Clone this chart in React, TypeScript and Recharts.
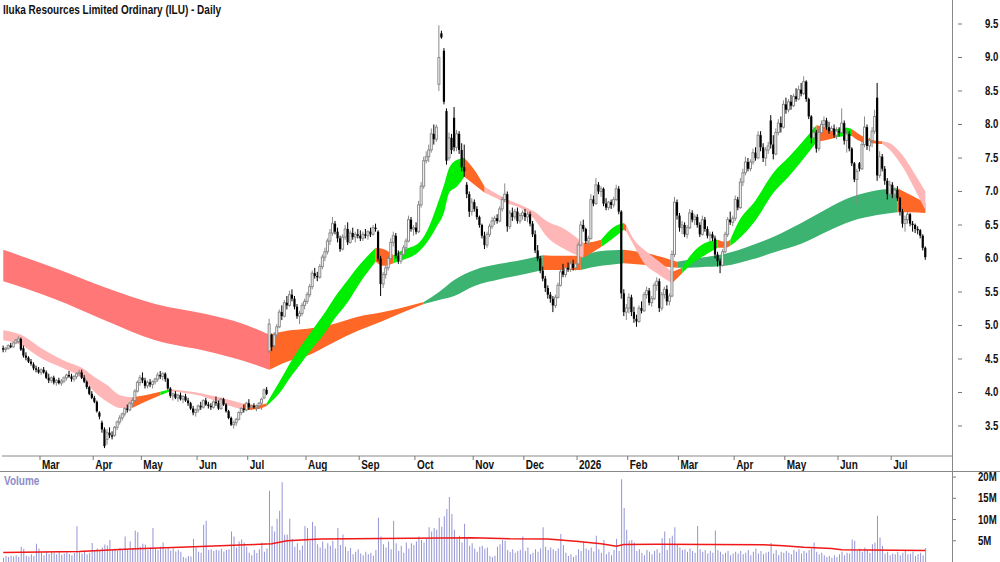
import React from 'react';
import { ComposedChart, Bar, Area, Line, XAxis, YAxis } from 'recharts';

// [open, high, low, close] per trading day, grouped by month
type C = [number, number, number, number];

const feb25: C[] = [[4.66,4.70,4.60,4.64],[4.64,4.68,4.60,4.66],[4.66,4.72,4.64,4.70],[4.70,4.74,4.66,4.68],[4.68,4.76,4.67,4.74],[4.74,4.80,4.72,4.78],[4.76,4.84,4.74,4.80],[4.80,4.82,4.62,4.64],[4.66,4.70,4.52,4.55],[4.55,4.60,4.48,4.52],[4.52,4.54,4.44,4.46],[4.46,4.50,4.40,4.43],[4.42,4.45,4.33,4.36],[4.36,4.40,4.30,4.34],[4.34,4.38,4.28,4.30]];
const mar25: C[] = [[4.30,4.36,4.26,4.34],[4.34,4.38,4.28,4.30],[4.30,4.33,4.20,4.22],[4.22,4.28,4.14,4.18],[4.18,4.24,4.14,4.22],[4.22,4.25,4.12,4.15],[4.15,4.20,4.10,4.18],[4.18,4.22,4.12,4.14],[4.14,4.20,4.10,4.17],[4.17,4.24,4.14,4.22],[4.22,4.28,4.18,4.26],[4.26,4.32,4.22,4.24],[4.24,4.28,4.16,4.20],[4.20,4.26,4.16,4.24],[4.24,4.30,4.20,4.28],[4.28,4.34,4.24,4.30],[4.30,4.34,4.20,4.22],[4.22,4.26,4.14,4.16],[4.16,4.18,4.05,4.08],[4.08,4.10,3.96,3.98],[3.98,4.02,3.90,3.92]];
const apr25: C[] = [[3.92,3.95,3.84,3.86],[3.86,3.88,3.70,3.72],[3.70,3.72,3.60,3.64],[3.55,3.58,3.40,3.45],[3.45,3.48,3.17,3.20],[3.30,3.45,3.22,3.40],[3.40,3.48,3.32,3.36],[3.36,3.42,3.30,3.34],[3.36,3.50,3.34,3.48],[3.48,3.58,3.44,3.56],[3.56,3.66,3.52,3.62],[3.62,3.70,3.58,3.68],[3.68,3.78,3.64,3.76],[3.76,3.82,3.70,3.74],[3.74,3.86,3.72,3.84],[3.84,3.92,3.78,3.88],[3.88,4.05,3.86,4.02],[4.02,4.18,4.00,4.15],[4.15,4.26,4.10,4.22]];
const may25: C[] = [[4.22,4.30,4.14,4.18],[4.18,4.22,4.06,4.10],[4.10,4.18,4.06,4.15],[4.15,4.20,4.08,4.12],[4.12,4.18,4.06,4.16],[4.16,4.22,4.12,4.20],[4.20,4.30,4.16,4.26],[4.26,4.32,4.20,4.24],[4.24,4.30,4.18,4.28],[4.28,4.30,4.16,4.20],[4.20,4.22,4.04,4.06],[4.06,4.08,3.92,3.95],[3.95,4.00,3.88,3.98],[3.98,4.02,3.90,3.92],[3.92,3.98,3.86,3.96],[3.96,4.00,3.88,3.90],[3.90,3.96,3.84,3.94],[3.94,3.98,3.86,3.88],[3.88,3.92,3.80,3.84],[3.84,3.86,3.74,3.76],[3.76,3.80,3.66,3.70],[3.70,3.76,3.64,3.74]];
const jun25: C[] = [[3.74,3.82,3.70,3.80],[3.80,3.86,3.74,3.78],[3.78,3.90,3.76,3.88],[3.88,3.92,3.80,3.82],[3.82,3.86,3.76,3.80],[3.80,3.84,3.74,3.78],[3.78,3.88,3.76,3.86],[3.86,3.94,3.80,3.84],[3.84,3.88,3.74,3.76],[3.76,3.92,3.74,3.90],[3.90,3.92,3.80,3.82],[3.82,3.84,3.70,3.72],[3.72,3.74,3.60,3.62],[3.62,3.64,3.50,3.52],[3.52,3.58,3.46,3.55],[3.55,3.62,3.50,3.60],[3.60,3.72,3.58,3.70],[3.70,3.78,3.66,3.76],[3.76,3.82,3.70,3.74],[3.74,3.86,3.72,3.84]];
const jul25: C[] = [[3.84,3.90,3.74,3.78],[3.78,3.82,3.74,3.80],[3.80,3.84,3.76,3.78],[3.78,3.82,3.72,3.80],[3.80,3.86,3.76,3.84],[3.84,3.92,3.74,3.90],[3.92,4.06,3.90,4.04],[4.04,4.08,3.96,3.98],[4.62,5.10,4.58,5.02],[4.86,4.88,4.62,4.68],[4.70,4.90,4.66,4.86],[4.86,5.02,4.82,4.98],[4.98,5.24,4.96,5.20],[5.20,5.30,5.08,5.14],[5.14,5.38,5.12,5.34],[5.34,5.44,5.24,5.30],[5.30,5.52,5.28,5.46],[5.46,5.54,5.36,5.40],[5.40,5.44,5.24,5.28],[5.28,5.32,5.10,5.14],[5.14,5.22,5.02,5.18],[5.18,5.34,5.14,5.30],[5.30,5.40,5.24,5.36]];
const aug25: C[] = [[5.36,5.50,5.32,5.46],[5.46,5.62,5.42,5.58],[5.58,5.82,5.54,5.78],[5.78,5.86,5.70,5.74],[5.74,5.80,5.66,5.72],[5.72,5.92,5.70,5.88],[5.88,6.06,5.84,6.02],[6.02,6.16,5.96,6.10],[6.10,6.30,6.06,6.26],[6.26,6.44,6.20,6.38],[6.38,6.62,6.34,6.52],[6.52,6.56,6.36,6.40],[6.40,6.46,6.24,6.30],[6.30,6.34,6.10,6.14],[6.14,6.36,6.12,6.32],[6.32,6.50,6.28,6.44],[6.44,6.54,6.20,6.24],[6.24,6.42,6.22,6.38],[6.38,6.46,6.28,6.32],[6.32,6.40,6.24,6.36],[6.36,6.44,6.30,6.34]];
const sep25: C[] = [[6.34,6.42,6.26,6.30],[6.30,6.40,6.26,6.36],[6.36,6.44,6.30,6.34],[6.34,6.42,6.28,6.40],[6.40,6.46,6.32,6.36],[6.36,6.50,6.34,6.46],[6.46,6.52,6.40,6.44],[6.40,6.42,5.96,6.00],[6.00,6.04,5.44,5.62],[5.62,5.80,5.56,5.76],[5.76,5.90,5.70,5.86],[5.86,6.04,5.82,6.00],[6.00,6.30,5.98,6.24],[6.24,6.40,6.18,6.34],[6.34,6.38,6.00,6.04],[6.04,6.12,5.92,5.96],[5.96,6.08,5.92,6.06],[6.06,6.20,6.02,6.16],[6.16,6.30,6.10,6.26],[6.26,6.64,6.24,6.58],[6.58,6.62,6.40,6.44],[6.44,6.50,6.34,6.46]];
const oct25: C[] = [[6.46,6.54,6.36,6.40],[6.40,6.86,6.38,6.80],[6.80,7.14,6.76,7.08],[7.08,7.52,7.04,7.46],[7.46,7.60,7.42,7.52],[7.52,7.70,7.44,7.62],[7.62,7.94,7.58,7.86],[7.86,8.00,7.70,7.78],[7.78,8.00,7.74,7.96],[8.60,9.48,8.50,9.00],[9.36,9.40,9.28,9.30],[9.10,9.14,8.30,8.34],[8.20,8.24,7.40,7.46],[7.50,7.88,7.46,7.80],[7.80,7.86,7.56,7.62],[8.10,8.26,7.60,7.66],[7.66,7.92,7.60,7.86],[7.86,7.90,7.56,7.62],[7.62,7.72,7.30,7.36],[7.36,7.70,7.22,7.30],[7.10,7.14,6.90,6.96],[6.96,7.00,6.62,6.70],[6.70,6.90,6.64,6.84]];
const nov25: C[] = [[6.84,6.88,6.70,6.74],[6.74,6.78,6.58,6.62],[6.62,6.64,6.46,6.50],[6.50,6.52,6.30,6.34],[6.34,6.40,6.14,6.20],[6.20,6.40,6.16,6.36],[6.36,6.52,6.32,6.48],[6.48,6.62,6.44,6.56],[6.56,6.64,6.50,6.60],[6.60,6.66,6.52,6.56],[6.56,6.78,6.54,6.74],[6.74,6.92,6.70,6.88],[6.88,7.12,6.84,6.96],[6.96,7.00,6.40,6.48],[6.48,6.72,6.44,6.68],[6.68,6.76,6.56,6.62],[6.62,6.74,6.58,6.70],[6.70,6.76,6.52,6.56],[6.56,6.68,6.52,6.64],[6.64,6.72,6.58,6.68]];
const dec25: C[] = [[6.68,6.74,6.56,6.62],[6.62,6.70,6.54,6.66],[6.66,6.70,6.48,6.52],[6.52,6.56,6.32,6.36],[6.36,6.42,6.08,6.12],[6.12,6.20,5.96,6.00],[6.00,6.04,5.78,5.82],[5.82,5.88,5.66,5.70],[5.70,5.74,5.50,5.56],[5.56,5.60,5.40,5.46],[5.46,5.50,5.34,5.40],[5.40,5.44,5.20,5.30],[5.30,5.46,5.26,5.42],[5.42,5.64,5.40,5.60],[5.60,5.84,5.58,5.80],[5.82,5.92,5.72,5.76],[5.76,5.90,5.72,5.86],[5.86,5.94,5.80,5.84],[5.84,5.96,5.80,5.92],[5.92,5.98,5.82,5.86],[5.86,5.96,5.82,5.92]];
const jan26: C[] = [[5.92,6.24,5.90,6.20],[6.20,6.56,6.18,6.50],[6.50,6.58,6.40,6.44],[6.44,6.46,6.22,6.26],[6.26,6.34,6.20,6.30],[6.30,6.96,6.28,6.88],[6.88,6.94,6.78,6.82],[6.82,7.20,6.80,7.10],[7.10,7.14,6.96,7.00],[7.00,7.08,6.92,7.04],[7.04,7.06,6.78,6.82],[6.82,6.90,6.72,6.76],[6.76,6.86,6.72,6.84],[6.84,6.88,6.74,6.80],[6.80,6.92,6.76,6.88],[6.88,7.10,6.86,7.04],[7.04,7.08,6.66,6.70],[6.70,6.72,5.40,5.48],[5.48,5.54,5.14,5.20],[5.20,5.32,5.08,5.26]];
const feb26: C[] = [[5.26,5.48,5.18,5.42],[5.42,5.46,5.14,5.20],[5.20,5.28,5.04,5.10],[5.10,5.16,4.98,5.06],[5.06,5.30,5.04,5.26],[5.26,5.36,5.18,5.22],[5.22,5.50,5.20,5.46],[5.46,5.58,5.40,5.52],[5.52,5.56,5.30,5.34],[5.34,5.44,5.28,5.40],[5.40,5.64,5.38,5.60],[5.60,5.72,5.52,5.66],[5.66,5.70,5.20,5.26],[5.26,5.50,5.22,5.46],[5.46,5.58,5.40,5.54],[5.54,5.60,5.30,5.36],[5.36,5.48,5.30,5.44],[5.44,6.12,5.42,6.06],[6.06,6.92,6.02,6.84],[6.84,6.88,6.58,6.64]];
const mar26: C[] = [[6.64,6.68,6.40,6.46],[6.46,6.56,6.36,6.50],[6.50,6.54,6.32,6.36],[6.36,6.50,6.30,6.46],[6.46,6.74,6.44,6.68],[6.68,6.72,6.54,6.58],[6.58,6.66,6.50,6.62],[6.62,6.66,6.46,6.50],[6.50,6.54,6.32,6.36],[6.36,6.64,6.34,6.58],[6.58,6.62,6.40,6.44],[6.44,6.48,6.30,6.34],[6.34,6.40,6.24,6.36],[6.36,6.40,6.26,6.30],[6.30,6.34,6.00,6.06],[6.06,6.10,5.88,5.96],[5.96,6.00,5.78,5.90],[5.90,6.14,5.88,6.10],[6.10,6.40,6.08,6.36],[6.36,6.62,6.32,6.58],[6.58,6.70,6.50,6.54],[6.54,6.64,6.48,6.60]];
const apr26: C[] = [[6.60,6.94,6.56,6.88],[6.88,6.92,6.72,6.76],[6.76,7.20,6.74,7.14],[7.14,7.34,7.08,7.28],[7.28,7.52,7.24,7.44],[7.44,7.50,7.30,7.34],[7.34,7.48,7.30,7.44],[7.44,7.64,7.40,7.58],[7.58,7.66,7.46,7.50],[7.50,7.90,7.48,7.84],[7.84,7.90,7.60,7.66],[7.66,7.72,7.44,7.50],[7.50,7.66,7.38,7.62],[7.62,7.74,7.56,7.68],[8.06,8.14,7.64,7.70],[7.70,7.84,7.48,7.56],[7.56,7.94,7.54,7.88],[7.88,8.08,7.84,8.02],[8.02,8.12,7.88,7.96],[7.96,8.36,7.94,8.30]];
const may26: C[] = [[8.30,8.40,8.16,8.22],[8.22,8.38,8.18,8.34],[8.34,8.44,8.22,8.28],[8.28,8.46,8.26,8.42],[8.42,8.54,8.34,8.38],[8.38,8.58,8.36,8.52],[8.52,8.62,8.42,8.46],[8.46,8.72,8.44,8.64],[8.64,8.66,8.34,8.38],[8.38,8.40,8.08,8.12],[8.12,8.14,7.72,7.80],[7.80,7.96,7.70,7.88],[7.88,7.92,7.58,7.64],[7.64,7.94,7.60,7.88],[7.88,8.06,7.84,8.00],[8.00,8.12,7.94,8.06],[8.06,8.10,7.92,7.96],[7.96,8.04,7.86,7.90],[7.90,7.98,7.80,7.94],[7.94,8.00,7.80,7.84],[7.84,7.96,7.78,7.90]];
const jun26: C[] = [[7.90,7.96,7.82,7.88],[7.88,8.24,7.86,8.02],[8.02,8.06,7.70,7.76],[7.76,7.92,7.58,7.86],[7.86,7.90,7.60,7.64],[7.64,7.66,7.38,7.42],[7.42,7.44,7.14,7.18],[7.18,7.34,6.82,7.30],[7.42,7.44,7.30,7.34],[7.34,7.76,7.32,7.70],[7.70,8.12,7.66,7.96],[7.96,8.00,7.62,7.68],[7.68,7.80,7.60,7.76],[7.76,7.96,7.66,7.90],[7.90,8.22,7.86,8.12],[8.40,8.62,7.16,7.24],[7.24,7.60,7.20,7.52],[7.52,7.56,7.30,7.34],[7.34,7.38,7.10,7.16],[7.16,7.20,6.88,6.96],[6.96,7.16,6.92,7.10]];
const jul26: C[] = [[7.10,7.14,6.90,6.96],[6.96,7.06,6.88,7.02],[7.02,7.08,6.86,6.90],[6.90,6.92,6.64,6.70],[6.70,6.74,6.46,6.52],[6.52,6.64,6.40,6.58],[6.58,6.72,6.52,6.66],[6.66,6.68,6.48,6.52],[6.52,6.56,6.40,6.50],[6.50,6.52,6.38,6.44],[6.44,6.48,6.36,6.42],[6.42,6.44,6.30,6.34],[6.34,6.36,6.12,6.16],[6.16,6.18,5.98,6.02]];

const months = [feb25, mar25, apr25, may25, jun25, jul25, aug25, sep25, oct25, nov25, dec25, jan26, feb26, mar26, apr26, may26, jun26, jul26];
const monthLabels = ['', 'Mar', 'Apr', 'May', 'Jun', 'Jul', 'Aug', 'Sep', 'Oct', 'Nov', 'Dec', '2026', 'Feb', 'Mar', 'Apr', 'May', 'Jun', 'Jul'];

// volume, millions
const volFeb25 = [1.0,1.4,1.2,1.5,1.3,1.6,1.2,3.6,3.1,1.5,1.3,1.8,1.4,4.3,3.2];
const volMar25 = [2.1,1.6,2.4,1.9,2.6,2.2,1.8,2.5,1.7,2.0,2.3,1.9,1.6,2.1,8.4,2.3,2.0,2.4,1.8,2.2,4.5];
const volApr25 = [2.8,3.2,2.6,3.4,4.1,3.9,5.2,2.9,3.1,2.7,3.3,2.9,6.0,3.0,4.8,3.2,7.4,7.0,3.6];
const volMay25 = [4.3,4.1,2.9,3.4,8.0,3.1,2.8,3.6,4.6,3.0,3.3,2.7,3.2,2.5,2.9,2.4,1.2,1.0,1.4,1.3,5.4,3.4];
const volJun25 = [2.4,2.2,8.8,9.7,2.8,3.0,2.6,2.9,2.7,3.1,2.5,2.8,3.0,7.2,6.0,3.4,4.8,5.3,4.6,3.6];
const volJul25 = [2.2,1.6,2.8,2.1,3.0,4.6,2.4,3.2,16.8,8.5,7.2,10.2,12.1,18.8,6.4,6.5,10.2,5.4,3.6,4.4,2.8,3.9,8.5];
const volAug25 = [8.0,5.0,9.5,8.5,4.2,3.4,4.8,3.1,4.4,3.8,5.0,3.2,8.0,4.0,6.5,3.6,2.6,3.3,1.8,2.4,3.0];
const volSep25 = [2.0,1.6,2.4,1.8,2.2,1.5,2.8,10.4,6.0,4.2,3.4,4.8,3.0,9.7,4.4,2.6,3.8,2.2,4.6,3.2,4.4,4.0];
const volOct25 = [4.8,6.0,5.2,4.6,5.6,8.2,7.2,8.0,7.6,10.4,8.3,10.8,12.5,15.3,11.3,7.6,5.4,6.2,4.6,9.0,5.6,3.8,4.4];
const volNov25 = [3.2,2.4,3.6,3.8,3.1,3.4,1.4,1.2,1.5,3.6,4.2,5.2,5.0,2.8,2.4,3.0,2.2,2.6,2.9,6.0];
const volDec25 = [2.6,3.4,1.8,2.2,3.0,2.4,3.2,8.2,3.6,2.8,3.4,3.0,2.6,3.2,6.6,4.0,2.2,1.4,1.8,1.2,1.6];
const volJan26 = [3.0,2.6,4.8,3.2,2.8,3.4,2.5,6.2,3.0,2.2,5.2,1.8,2.4,1.6,2.8,5.5,2.6,19.5,12.7,7.6];
const volFeb26 = [5.0,5.2,4.6,2.6,3.0,2.2,1.6,2.8,2.4,1.8,2.6,3.0,2.2,5.6,7.2,2.8,5.6,6.2,8.2,4.0];
const volMar26 = [3.4,2.8,3.0,2.4,3.2,2.6,2.2,8.5,3.0,2.4,2.8,2.0,2.6,2.2,7.4,2.8,2.4,1.8,2.2,2.6,1.6,2.0];
const volApr26 = [2.4,2.0,2.6,1.8,2.2,2.8,1.6,2.4,3.2,2.0,2.6,1.8,2.2,2.4,4.5,2.0,2.8,1.6,2.4,2.2];
const volMay26 = [2.6,2.2,1.8,2.8,2.4,3.0,2.0,2.6,2.2,2.8,3.2,4.6,2.4,1.8,2.2,1.6,1.2,1.4,1.0,1.6,1.2];
const volJun26 = [1.8,2.4,1.6,2.2,2.0,5.3,5.0,2.6,3.2,2.4,3.4,2.8,2.2,4.2,4.6,10.9,5.8,3.8,2.0,2.4,1.6];
const volJul26 = [2.0,1.8,2.4,1.6,2.2,2.8,1.8,2.0,2.4,1.4,1.8,2.2,1.6,3.3];
const volMonths = [volFeb25, volMar25, volApr25, volMay25, volJun25, volJul25, volAug25, volSep25, volOct25, volNov25, volDec25, volJan26, volFeb26, volMar26, volApr26, volMay26, volJun26, volJul26];

// volume average line (day index -> millions)
const volAvgIdx = [0,30,50,78,96,106,112,125,185,200,215,226,236,242,245,258,300,308,316,327,331,364];
const volAvgVal = [2.25,2.5,3.05,3.65,4.05,4.3,5.0,5.4,5.7,5.45,5.4,4.9,4.3,3.7,4.1,4.2,4.05,3.8,3.45,3.2,2.9,2.7];

// short-term ribbon edges
const shortIdx = [0,7,15,25,31,36,41,46,51,56,62,66,78,86,95,100,104,109,114,118,122,126,131,136,141,147,150,154,158,164,168,171,174,176,179,182,186,190,198,206,210,214,222,229,233,236,241,245,246,249,253,258,264,268,272,277,282,285,287,290,297,304,310,317,321,325,329,333,335,339,343,347,350,355,360,364];
const shortHi = [4.93,4.86,4.66,4.46,4.37,4.23,4.11,3.96,3.93,3.96,4.01,4.05,3.99,3.92,3.83,3.81,3.84,4.16,4.49,4.72,4.93,5.14,5.43,5.68,5.92,6.16,6.14,6.05,6.13,6.23,6.47,6.77,7.10,7.35,7.47,7.50,7.32,7.07,6.90,6.77,6.69,6.57,6.43,6.23,6.25,6.28,6.47,6.53,6.49,6.28,6.13,5.98,5.80,5.86,6.08,6.23,6.28,6.25,6.28,6.53,6.87,7.28,7.51,7.81,7.99,7.96,7.93,7.95,7.93,7.83,7.77,7.75,7.72,7.54,7.25,7.00];
const shortLo = [4.78,4.71,4.51,4.34,4.22,4.01,3.86,3.77,3.77,3.86,3.96,4.02,3.95,3.84,3.74,3.75,3.80,3.99,4.26,4.46,4.66,4.84,5.11,5.35,5.65,5.95,5.89,5.93,5.98,6.10,6.28,6.47,6.69,6.98,7.07,7.22,7.10,6.98,6.84,6.71,6.57,6.35,6.13,6.01,6.10,6.17,6.31,6.43,6.40,6.19,5.93,5.78,5.63,5.78,5.93,6.05,6.16,6.16,6.19,6.28,6.57,6.98,7.22,7.54,7.74,7.77,7.81,7.83,7.83,7.74,7.72,7.71,7.62,7.37,7.02,6.72];
const shortSegs: [number, number, string][] = [[0,51,'pink'],[51,62,'orange'],[62,66,'green'],[66,95,'pink'],[95,104,'orange'],[104,147,'green'],[147,154,'orange'],[154,182,'green'],[182,190,'orange'],[190,229,'pink'],[229,236,'orange'],[236,245,'green'],[245,246,'orange'],[246,264,'pink'],[264,268,'orange'],[268,282,'green'],[282,287,'orange'],[287,321,'green'],[321,329,'orange'],[329,335,'green'],[335,347,'orange'],[347,364,'pink']];

// long-term ribbon edges
const longIdx = [0,20,40,60,80,95,105,112,120,130,140,150,160,166,172,178,186,196,206,213,220,228,236,245,255,266,275,285,295,305,315,325,335,345,353,358,364];
const longHi = [6.13,5.86,5.57,5.32,5.17,5.02,4.86,4.92,4.95,5.02,5.13,5.20,5.29,5.35,5.50,5.68,5.83,5.92,5.99,6.05,6.04,6.04,6.11,6.13,6.07,5.95,6.01,6.07,6.19,6.34,6.53,6.74,6.92,7.02,7.05,6.95,6.83];
const longLo = [5.66,5.40,5.08,4.78,4.62,4.47,4.34,4.46,4.55,4.74,4.92,5.07,5.23,5.32,5.38,5.44,5.59,5.69,5.77,5.83,5.83,5.83,5.89,5.93,5.90,5.86,5.87,5.89,5.98,6.10,6.22,6.40,6.56,6.65,6.69,6.69,6.68];
const longSegs: [number, number, string][] = [[0,105,'red'],[105,166,'orange'],[166,213,'green'],[213,228,'orange'],[228,245,'green'],[245,266,'orange'],[266,353,'green'],[353,364,'orange']];

const priceTicks = [3.5, 4, 4.5, 5, 5.5, 6, 6.5, 7, 7.5, 8, 8.5, 9, 9.5];
const volTicks = [5, 10, 15, 20];

const SHORT_COL: Record<string, string> = { pink: '#ffb6b6', orange: '#ff6726', green: '#00ee00' };
const LONG_COL: Record<string, string> = { red: '#ff7777', orange: '#ff6726', green: '#3cb371' };
const FONT = "'Liberation Sans', Arial, sans-serif";
const SQUEEZE = 0.8; // the source font is a narrow bold face

const SLOTS = 375;
const PLOT_W = 950;
const BAND = PLOT_W / SLOTS;

const candles = months.flat();
const volumes = volMonths.flat();
const monthStarts: number[] = [];
let acc = 0;
months.forEach(m => { monthStarts.push(acc); acc += m.length; });
const labelAt: Record<number, string> = {};
monthStarts.forEach((s, k) => { labelAt[s] = monthLabels[k]; });

const rows: any[] = Array.from({ length: SLOTS }, (_, i) => {
  const row: any = { i };
  const k = candles[i];
  if (k) { row.o = k[0]; row.h = k[1]; row.l = k[2]; row.c = k[3]; row.hl = [k[2], k[1]]; }
  if (volumes[i] != null) row.v = volumes[i];
  return row;
});
shortIdx.forEach((ix, j) => { rows[ix].sr = [shortLo[j], shortHi[j]]; });
longIdx.forEach((ix, j) => { rows[ix].lr = [longLo[j], longHi[j]]; });
volAvgIdx.forEach((ix, j) => { rows[ix].va = volAvgVal[j]; });

const segKey = (key: string, from: number, to: number) => (d: any) =>
  d.i >= from && d.i <= to && d[key] ? d[key] : null;

function CandleShape(props: any) {
  const { x, y, width, height, payload } = props;
  if (!payload || payload.o == null) return null;
  const { o, h, l, c } = payload;
  const cx = x + width / 2;
  const span = h - l || 1;
  const py = (v: number) => y + ((h - v) / span) * height;
  const up = c >= o;
  const top = py(Math.max(o, c));
  const bh = Math.max(py(Math.min(o, c)) - top, 1);
  const col = up ? '#8a8a8a' : '#000';
  return (
    <g>
      <line x1={cx} x2={cx} y1={y} y2={y + height} stroke={col} strokeWidth={1} />
      {up
        ? <rect x={cx - 1} y={top} width={2} height={bh} fill="#fff" stroke={col} strokeWidth={1} />
        : <rect x={cx - 1.1} y={top} width={2.2} height={bh} fill="#000" />}
    </g>
  );
}

function SqText({ x, y, size, children, fill = '#111' }: any) {
  return (
    <text transform={`translate(${x},${y}) scale(${SQUEEZE},1)`} fontSize={size} fontWeight="bold" fontFamily={FONT} fill={fill}>
      {children}
    </text>
  );
}

function MonthTick(props: any) {
  const { x, y, payload } = props;
  const lx = x - BAND / 2;
  return (
    <g>
      <line x1={lx} x2={lx} y1={y} y2={y + 4} stroke="#777" />
      <SqText x={lx + 2} y={y + 13} size={12.5}>{labelAt[payload.value]}</SqText>
    </g>
  );
}

function PriceTick(props: any) {
  const { x, y, payload } = props;
  return (
    <g>
      <line x1={x + 6} x2={x + 10} y1={y} y2={y} stroke="#777" />
      <SqText x={x + 33} y={y + 4} size={12}>{payload.value.toFixed(1)}</SqText>
    </g>
  );
}

function VolTick(props: any) {
  const { x, y, payload } = props;
  return (
    <g>
      <line x1={x} x2={x + 4} y1={y} y2={y} stroke="#777" />
      <SqText x={x + 26} y={y + 4} size={12}>{payload.value}M</SqText>
    </g>
  );
}

export default function App() {
  return (
    <div style={{ position: 'absolute', left: 0, top: 0, width: 1000, height: 562, background: '#fff', overflow: 'hidden' }}>
      <div style={{ position: 'absolute', left: 0, top: 0 }}>
        <ComposedChart width={1000} height={472} data={rows} margin={{ top: 0, right: 0, left: 2, bottom: 0 }} barCategoryGap={0}>
          <XAxis dataKey="i" type="category" height={16} ticks={monthStarts.slice(1)} interval={0}
            tickLine={false} tickSize={0} tickMargin={0} axisLine={{ stroke: '#888' }} tick={(p: any) => <MonthTick {...p} />} />
          <YAxis orientation="right" width={48} type="number" domain={[3.052, 9.858]} ticks={priceTicks} interval={0} allowDataOverflow
            tickLine={false} tickSize={0} tickMargin={0} axisLine={false} tick={(p: any) => <PriceTick {...p} />} />
          {longSegs.map(([a, b, col], k) => (
            <Area key={'l' + k} dataKey={segKey('lr', a, b)} type="monotone" connectNulls fill={LONG_COL[col]} fillOpacity={1}
              stroke="none" dot={false} activeDot={false} isAnimationActive={false} />
          ))}
          {shortSegs.map(([a, b, col], k) => (
            <Area key={'s' + k} dataKey={segKey('sr', a, b)} type="monotone" connectNulls fill={SHORT_COL[col]} fillOpacity={1}
              stroke="none" dot={false} activeDot={false} isAnimationActive={false} />
          ))}
          <Bar dataKey="hl" barSize={3} shape={(p: any) => <CandleShape {...p} />} isAnimationActive={false} />
        </ComposedChart>
      </div>
      <div style={{ position: 'absolute', left: 0, top: 471 }}>
        <ComposedChart width={1000} height={91} data={rows} margin={{ top: 1, right: 0, left: 2, bottom: 0 }} barCategoryGap={0}>
          <XAxis dataKey="i" type="category" hide />
          <YAxis orientation="right" width={48} type="number" domain={[0, 21.2]} ticks={volTicks} interval={0} allowDataOverflow
            tickLine={false} tickSize={0} tickMargin={0} axisLine={false} tick={(p: any) => <VolTick {...p} />} />
          <Bar dataKey="v" fill="#9494d6" barSize={1} isAnimationActive={false} />
          <Line dataKey="va" type="linear" connectNulls stroke="#f01818" strokeWidth={1.5} dot={false} activeDot={false} isAnimationActive={false} />
        </ComposedChart>
      </div>
      <div style={{ position: 'absolute', left: 952, top: 0, width: 1, height: 562, background: '#888' }} />
      <div style={{ position: 'absolute', left: 0, top: 471, width: 1000, height: 1, background: '#888' }} />
      <div style={{ position: 'absolute', left: 3, top: 2, fontFamily: FONT, fontWeight: 'bold', fontSize: 13, color: '#111', whiteSpace: 'nowrap', transform: 'scaleX(0.77)', transformOrigin: 'left top' }}>
        Iluka Resources Limited Ordinary (ILU) - Daily
      </div>
      <div style={{ position: 'absolute', left: 4, top: 474, fontFamily: FONT, fontWeight: 'bold', fontSize: 12.5, color: '#8c8cc8', transform: 'scaleX(0.8)', transformOrigin: 'left top' }}>
        Volume
      </div>
    </div>
  );
}
